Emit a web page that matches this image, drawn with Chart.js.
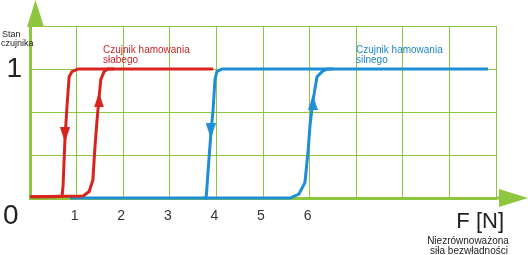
<!DOCTYPE html>
<html>
<head>
<meta charset="utf-8">
<script src="https://cdn.jsdelivr.net/npm/chart.js@4.4.0/dist/chart.umd.min.js"></script>
<style>
    body { margin: 0; background: #fff; }
    canvas { display: block; }
</style>
</head>
<body>
<canvas id="myPlot" width="528" height="255"></canvas>
<script>
// weak braking sensor (red)
const redRiseX = [0, 1.14, 1.27, 1.35, 1.39, 1.44, 1.48, 1.52, 1.59, 1.67, 3.93];
const redRiseY = [0.01, 0.016, 0.05, 0.14, 0.375, 0.61, 0.77, 0.92, 0.98, 1, 1];
const redFallX = [1.8, 1.03, 0.9, 0.84, 0.79, 0.75, 0.71, 0.69, 0.54, 0];
const redFallY = [1, 1, 0.98, 0.94, 0.69, 0.45, 0.1, 0.016, 0.01, 0.01];
const redArrowX = [1.48, 0.75];
const redArrowY = [0.76, 0.49];
const redArrowUp = [true, false];

// strong braking sensor (blue)
const blueRiseX = [0.86, 5.58, 5.77, 5.9, 5.97, 6.01, 6.07, 6.16, 6.27, 6.37, 9.83];
const blueRiseY = [0, 0, 0.03, 0.12, 0.375, 0.57, 0.75, 0.94, 0.98, 1, 1];
const blueFallX = [6.5, 4.12, 4.01, 3.97, 3.93, 3.88, 3.84, 3.8, 3.78, 3.7];
const blueFallY = [1, 1, 0.98, 0.92, 0.69, 0.49, 0.3, 0.1, 0, 0];
const blueArrowX = [3.88, 6.07];
const blueArrowY = [0.52, 0.74];
const blueArrowUp = [false, true];

const xTickLabels = ['', '1', '2', '3', '4', '5', '6', '', '', '', ''];
const yGridValues = [0, 1 / 3, 2 / 3, 1, 4 / 3];

const green = '#8dc63f';
const red = '#d8241f';
const blue = '#1e8fd2';

function toPoints(xs, ys) {
    return xs.map((x, i) => ({ x: x, y: ys[i] }));
}

function arrowHead(color, up) {
    const c = document.createElement('canvas');
    c.width = 10;
    c.height = 15;
    const g = c.getContext('2d');
    g.fillStyle = color;
    g.beginPath();
    if (up) {
        g.moveTo(5, 0); g.lineTo(10, 15); g.lineTo(0, 15);
    } else {
        g.moveTo(0, 0); g.lineTo(10, 0); g.lineTo(5, 15);
    }
    g.closePath();
    g.fill();
    return c;
}

const decorations = {
    id: 'decorations',
    afterDraw(chart) {
        const ctx = chart.ctx;
        const a = chart.chartArea;
        ctx.save();
        // axis arrows
        ctx.fillStyle = green;
        ctx.strokeStyle = green;
        ctx.lineWidth = 3;
        ctx.beginPath();
        ctx.moveTo(a.right, a.bottom);
        ctx.lineTo(a.right + 4, a.bottom);
        ctx.stroke();
        ctx.beginPath();
        ctx.moveTo(a.right + 3, a.bottom - 9);
        ctx.lineTo(528, a.bottom);
        ctx.lineTo(a.right + 3, a.bottom + 9);
        ctx.closePath();
        ctx.fill();
        ctx.beginPath();
        ctx.moveTo(a.left - 3, a.top + 1);
        ctx.lineTo(a.left + 5.5, 0);
        ctx.lineTo(a.left + 14, a.top + 1);
        ctx.closePath();
        ctx.fill();

        // texts
        ctx.fillStyle = '#222';
        ctx.textAlign = 'left';
        ctx.textBaseline = 'alphabetic';
        ctx.font = '9px "Liberation Sans", Arial, sans-serif';
        ctx.fillText('Stan', 2, 37);
        ctx.fillText('czujnika', 1, 46);
        ctx.font = '28px "Liberation Sans", Arial, sans-serif';
        ctx.fillText('0', 3, 224);
        ctx.textAlign = 'right';
        ctx.font = '22px "Liberation Sans", Arial, sans-serif';
        ctx.fillText('F [N]', 504, 228);
        ctx.textAlign = 'center';
        ctx.font = '10px "Liberation Sans", Arial, sans-serif';
        ctx.fillText('Niezrównoważona', 468, 244);
        ctx.fillText('siła bezwładności', 469, 254);

        ctx.textAlign = 'left';
        ctx.fillStyle = '#c4262b';
        ctx.fillText('Czujnik hamowania', 103, 53);
        ctx.fillText('słabego', 103, 63);
        ctx.fillStyle = '#1c85c6';
        ctx.fillText('Czujnik hamowania', 356, 53);
        ctx.fillText('silnego', 356, 63);
        ctx.restore();
    }
};

const lineStyle = {
    showLine: true,
    borderWidth: 3,
    pointRadius: 0,
    tension: 0,
    clip: false
};

new Chart(document.getElementById('myPlot'), {
    type: 'scatter',
    data: {
        datasets: [{
            data: toPoints(redArrowX, redArrowY),
            showLine: false,
            pointStyle: redArrowUp.map(up => arrowHead(red, up)),
            pointRadius: 7,
            clip: false
        }, {
            data: toPoints(blueArrowX, blueArrowY),
            showLine: false,
            pointStyle: blueArrowUp.map(up => arrowHead(blue, up)),
            pointRadius: 7,
            clip: false
        }, {
            ...lineStyle,
            data: toPoints(redRiseX, redRiseY),
            borderColor: red
        }, {
            ...lineStyle,
            data: toPoints(redFallX, redFallY),
            borderColor: red
        }, {
            ...lineStyle,
            data: toPoints(blueRiseX, blueRiseY),
            borderColor: blue
        }, {
            ...lineStyle,
            data: toPoints(blueFallX, blueFallY),
            borderColor: blue
        }]
    },
    options: {
        responsive: false,
        animation: false,
        devicePixelRatio: 1,
        layout: {
            padding: { left: 0, right: 32, top: 26, bottom: 0 }
        },
        plugins: {
            legend: { display: false },
            tooltip: { enabled: false }
        },
        scales: {
            x: {
                type: 'linear',
                min: 0,
                max: 10,
                afterFit: scale => { scale.height = 57; },
                afterBuildTicks: scale => {
                    scale.ticks = xTickLabels.map((t, i) => ({ value: i }));
                },
                grid: {
                    color: green,
                    lineWidth: 1,
                    drawTicks: false
                },
                border: { color: green, width: 3 },
                ticks: {
                    padding: 10,
                    labelOffset: -2,
                    color: '#333',
                    font: { family: '"Liberation Sans", Arial, sans-serif', size: 14 },
                    callback: (v, i) => xTickLabels[i]
                }
            },
            y: {
                type: 'linear',
                min: 0,
                max: 4 / 3,
                afterFit: scale => { scale.width = 30; },
                afterBuildTicks: scale => {
                    scale.ticks = yGridValues.map(v => ({ value: v }));
                },
                grid: {
                    color: green,
                    lineWidth: 1,
                    drawTicks: false
                },
                border: { color: green, width: 3 },
                ticks: {
                    padding: 8,
                    color: '#222',
                    font: { family: '"Liberation Sans", Arial, sans-serif', size: 28 },
                    callback: v => (v === 1 ? '1' : '')
                }
            }
        }
    },
    plugins: [decorations]
});
</script>
</body>
</html>
